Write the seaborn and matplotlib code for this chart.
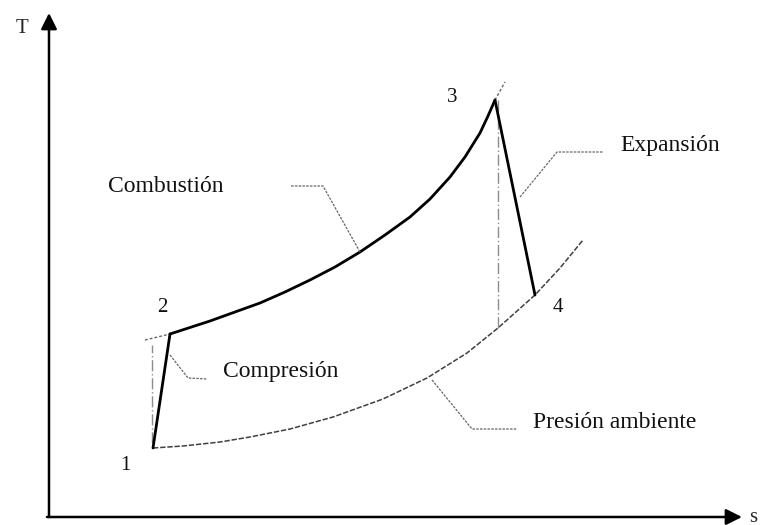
import matplotlib
matplotlib.use("Agg")
import pandas as pd
import matplotlib.pyplot as plt
import seaborn as sns

# state points of the Brayton cycle (s, T), arbitrary units
state_labels = ["1", "2", "3", "4"]
s_state = [1.04, 1.21, 4.46, 4.86]
T_state = [0.69, 1.83, 4.17, 2.22]

# high pressure isobar (combustion 2 -> 3)
s_comb = [1.21, 1.61, 1.86, 2.11, 2.36, 2.61, 2.86, 3.11, 3.36, 3.61,
          3.81, 4.01, 4.16, 4.31, 4.39, 4.46]
T_comb = [1.83, 1.96, 2.05, 2.14, 2.25, 2.37, 2.50, 2.65, 2.82, 3.00,
          3.18, 3.40, 3.60, 3.84, 4.01, 4.17]

# dashed continuation of the high pressure isobar
s_comb_lo = [0.96, 1.21]
T_comb_lo = [1.77, 1.83]
s_comb_hi = [4.46, 4.56]
T_comb_hi = [4.17, 4.35]

# ambient pressure isobar
s_amb = [1.04, 1.34, 1.71, 2.01, 2.41, 2.84, 3.34, 3.78, 4.18, 4.49,
         4.86, 5.11, 5.34]
T_amb = [0.69, 0.71, 0.75, 0.80, 0.88, 1.00, 1.18, 1.39, 1.64, 1.89,
         2.22, 2.49, 2.77]

# ideal (isentropic) compression and expansion
s_isen_c = [1.03, 1.03]
T_isen_c = [0.74, 1.72]
s_isen_e = [4.49, 4.49]
T_isen_e = [4.17, 1.89]

sns.set_theme(style="white")
plt.rcParams["font.family"] = ["Liberation Serif", "DejaVu Serif"]

fig = plt.figure(figsize=(7.64, 5.25), dpi=100)
ax = fig.add_axes([0, 0, 1, 1])
ax.set_xlim(-0.49, 7.15)
ax.set_ylim(-0.08, 5.17)
ax.axis("off")

# combustion isobar
comb = pd.DataFrame({"s": s_comb, "T": T_comb})
sns.lineplot(data=comb, x="s", y="T", sort=False, estimator=None,
             color="black", lw=2.0, ax=ax)
for xs, ys in [(s_comb_lo, T_comb_lo), (s_comb_hi, T_comb_hi)]:
    sns.lineplot(x=xs, y=ys, sort=False, estimator=None, color="0.4",
                 lw=1.0, linestyle=(0, (2, 1.5)), ax=ax)

# ambient isobar
amb = pd.DataFrame({"s": s_amb, "T": T_amb})
sns.lineplot(data=amb, x="s", y="T", sort=False, estimator=None,
             color="0.25", lw=1.1, linestyle=(0, (3.5, 1.2)), ax=ax)

# isentropic lines (dash-dot)
for xs, ys in [(s_isen_c, T_isen_c), (s_isen_e, T_isen_e)]:
    sns.lineplot(x=xs, y=ys, sort=False, estimator=None, color="0.55",
                 lw=1.0, linestyle=(0, (8, 2, 1, 2)), ax=ax)

# real compression 1->2 and expansion 3->4
sns.lineplot(x=[s_state[0], s_state[1]], y=[T_state[0], T_state[1]],
             sort=False, estimator=None, color="black", lw=2.0, ax=ax)
sns.lineplot(x=[s_state[2], s_state[3]], y=[T_state[2], T_state[3]],
             sort=False, estimator=None, color="black", lw=2.0, ax=ax)

# state numbers
label_pos = [(0.76, 0.52), (1.13, 2.09), (4.03, 4.19), (5.09, 2.10)]
for lab, (x, y) in zip(state_labels, label_pos):
    ax.text(x, y, lab, fontsize=15, ha="center", va="center", color="#111111")

# leaders and captions
leaders = [
    ("Combustión", [(3.11, 2.65), (2.74, 3.31), (2.41, 3.31)], (0.59, 3.30)),
    ("Expansión", [(4.71, 3.20), (5.08, 3.65), (5.54, 3.65)], (5.71, 3.72)),
    ("Compresión", [(1.21, 1.62), (1.39, 1.39), (1.58, 1.38)], (1.74, 1.45)),
    ("Presión ambiente", [(3.83, 1.37), (4.23, 0.88), (4.68, 0.88)], (4.84, 0.95)),
]
for text, pts, (tx, ty) in leaders:
    ax.plot([p[0] for p in pts], [p[1] for p in pts], color="0.4", lw=0.9,
            linestyle=(0, (2, 1)))
    ax.text(tx, ty, text, fontsize=17, ha="left", va="center", color="#111111")

# axes with arrows
ax.annotate("", xy=(0, 5.04), xytext=(0, 0),
            arrowprops=dict(arrowstyle="-|>", color="black", lw=1.8,
                            mutation_scale=24, shrinkA=0, shrinkB=0))
ax.annotate("", xy=(6.93, 0), xytext=(-0.02, 0),
            arrowprops=dict(arrowstyle="-|>", color="black", lw=1.8,
                            mutation_scale=24, shrinkA=0, shrinkB=0))
ax.text(-0.27, 4.89, "T", fontsize=15, ha="center", va="center")
ax.text(7.0, 0.0, "s", fontsize=15, ha="left", va="center")

fig.savefig("out.png", dpi=100)
